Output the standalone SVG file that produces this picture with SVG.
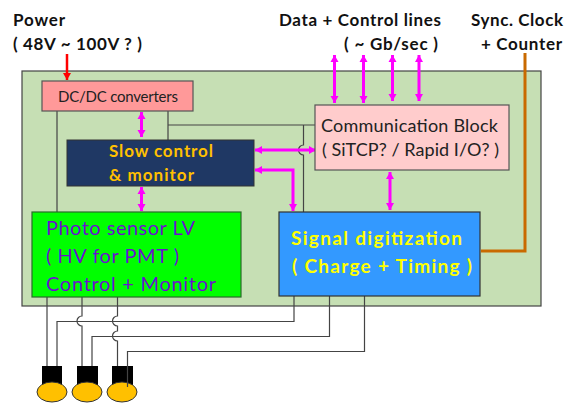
<svg xmlns="http://www.w3.org/2000/svg" width="581" height="403" viewBox="0 0 581 403">
<style>
text{font-family:"Lato","Open Sans","Liberation Sans",sans-serif;font-size:17px}
.t{fill:#111;font-weight:700}
.d{fill:#222;font-weight:400}
.b{stroke:#555;stroke-width:1.2}
.w{fill:none;stroke:#444;stroke-width:1.2}
.m{fill:none;stroke:#ff00ff;stroke-width:3;marker-start:url(#ms);marker-end:url(#me)}
</style>
<defs>
<marker id="me" markerUnits="userSpaceOnUse" markerWidth="9" markerHeight="9" refX="7" refY="4" orient="auto"><path d="M0 0L7 4L0 8Z" fill="#ff00ff"/></marker>
<marker id="ms" markerUnits="userSpaceOnUse" markerWidth="9" markerHeight="9" refX="0" refY="4" orient="auto"><path d="M7 0L0 4L7 8Z" fill="#ff00ff"/></marker>
<marker id="r" markerUnits="userSpaceOnUse" markerWidth="9" markerHeight="9" refX="7" refY="4" orient="auto"><path d="M0 0L7 4L0 8Z" fill="#f00"/></marker>
</defs>
<rect id="board" x="22" y="71" width="519" height="235" fill="#c6dfb4" stroke="#444" stroke-width="1.2"/>
<g id="connectors">
<path class="w" d="M57 111V212M168 111V140M168 125H315"/>
<path class="w" d="M303.500 125V145A5 5 0 0 0 303.500 155V212"/>
<path class="w" d="M47 297V366M57 366V321.500H294V296"/>
<path class="w" d="M82 297V316A5 5 0 0 0 82 326V366M92 366V336.500H329.500V296"/>
<path class="w" d="M117.500 297V316A5 5 0 0 0 117.500 326V331A5 5 0 0 0 117.500 341V366"/>
<path class="w" d="M127.500 387V351.500H364.500V296"/>
<path d="M67 54V80" fill="none" stroke="#f00" stroke-width="2.500" marker-end="url(#r)"/>
<path d="M525 53V251H481" fill="none" stroke="#c96a00" stroke-width="3"/>
<path class="m" d="M141.500 112V137"/>
<path class="m" d="M141.500 187V211"/>
<path class="m" d="M255 150H316"/>
<path d="M255 170H293V211" class="m"/>
<path class="m" d="M390 172V210"/>
<path class="m" d="M334.500 55V103"/>
<path class="m" d="M363.500 55V103"/>
<path class="m" d="M392.500 55V101"/>
<path class="m" d="M419 55V101"/>
</g>
<g id="dcdc"><rect class="b" x="42" y="81" width="151" height="30" fill="#ff9999"/><text class="d" x="58" y="102" style="font-size:15px" textLength="120">DC/DC converters</text></g>
<g id="comm"><rect class="b" x="315" y="105" width="194" height="65" fill="#ffcccc"/><text class="d" x="321" y="132" style="font-size:18px" textLength="177">Communication Block</text><text class="d" x="322" y="156" style="font-size:18px" textLength="177">( SiTCP? / Rapid I/O? )</text></g>
<g id="slow"><rect x="67" y="140" width="187" height="46" fill="#1f3864" stroke="#333"/><text x="109" y="157" fill="#ffc000" font-weight="700" textLength="104">Slow control</text><text x="109" y="181" fill="#ffc000" font-weight="700" textLength="85">&amp; monitor</text></g>
<g id="photo"><rect x="32" y="212" width="209" height="85" fill="#00ff00" stroke="#2a6a2a" stroke-width="1.200"/><text x="46" y="235" fill="#6a10d0" style="font-size:20px" textLength="149">Photo sensor LV</text><text x="46" y="263" fill="#6a10d0" style="font-size:20px" textLength="133">( HV for PMT )</text><text x="46" y="291" fill="#6a10d0" style="font-size:20px" textLength="170">Control + Monitor</text></g>
<g id="signal"><rect x="279" y="212" width="201" height="84" fill="#3399ff" stroke="#333" stroke-width="1.200"/><text x="291" y="245" fill="#ffff00" font-weight="700" style="font-size:19px" textLength="171">Signal digitization</text><text x="292" y="273" fill="#ffff00" font-weight="700" style="font-size:19px" textLength="180">( Charge + Timing )</text></g>
<g id="pmt1"><rect x="42" y="366" width="20" height="20" fill="#000"/><ellipse cx="52" cy="392" rx="15" ry="10" fill="#ffc000" stroke="#333"/></g>
<g id="pmt2"><rect x="77" y="366" width="21" height="20" fill="#000"/><ellipse cx="87" cy="392" rx="15" ry="10" fill="#ffc000" stroke="#333"/></g>
<g id="pmt3"><rect x="112" y="366" width="21" height="20" fill="#000"/><ellipse cx="122" cy="392" rx="15" ry="10" fill="#ffc000" stroke="#333"/><path class="w" d="M127.500 366V387"/></g>
<g id="labels">
<text class="t" x="13" y="26" textLength="52">Power</text>
<text class="t" x="13" y="50" textLength="129">( 48V ~ 100V ? )</text>
<text class="t" x="279" y="26" textLength="162">Data + Control lines</text>
<text class="t" x="344" y="50" textLength="94">( ~ Gb/sec )</text>
<text class="t" x="471" y="26" textLength="92">Sync. Clock</text>
<text class="t" x="481" y="50" textLength="81">+ Counter</text>
</g>
</svg>
